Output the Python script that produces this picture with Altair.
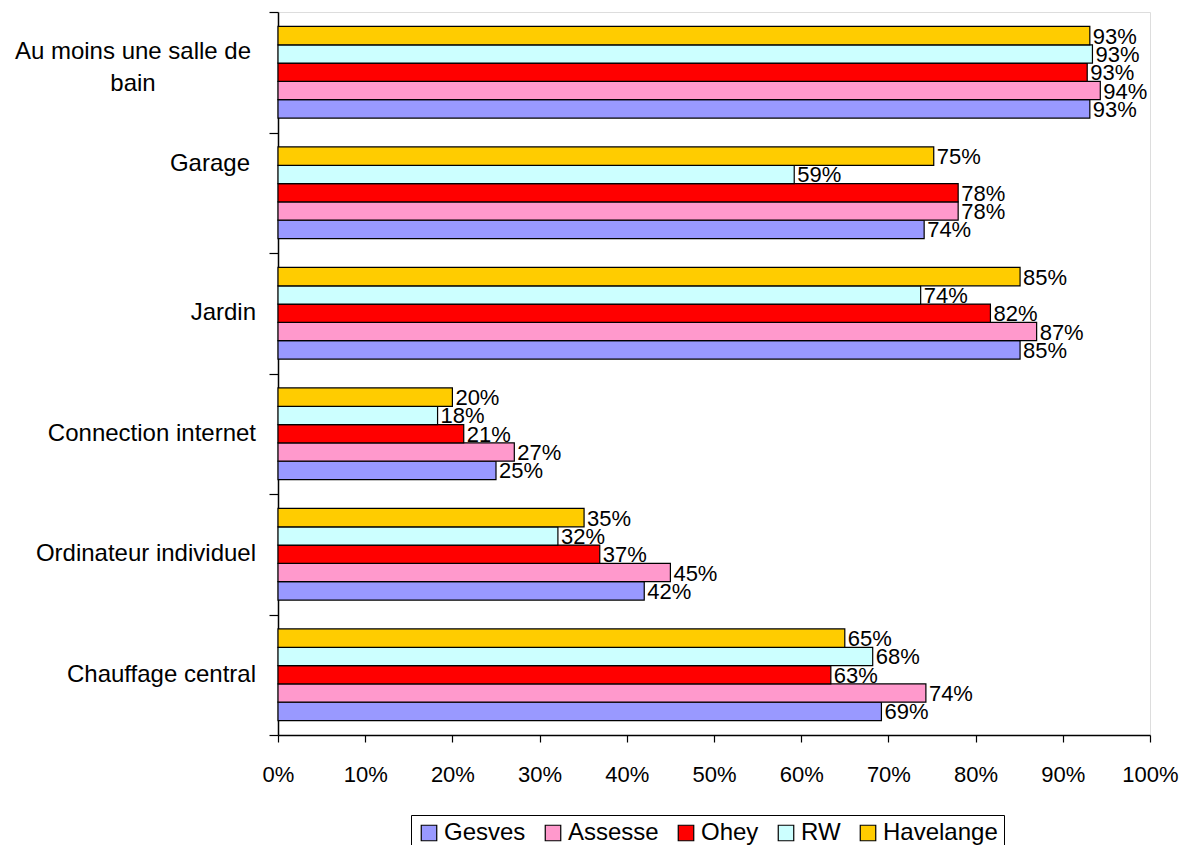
import altair as alt
import pandas as pd

categories = ["Au moins une salle de bain", "Garage", "Jardin",
              "Connection internet", "Ordinateur individuel", "Chauffage central"]
series = ["Gesves", "Assesse", "Ohey", "RW", "Havelange"]
colors = ["#9999FF", "#FF99CC", "#FF0000", "#CCFFFF", "#FFCC00"]

gesves = [93.1, 74.1, 85.1, 25.0, 42.0, 69.2]
assesse = [94.3, 78.0, 87.0, 27.1, 45.0, 74.3]
ohey = [92.8, 78.0, 81.7, 21.3, 36.9, 63.4]
rw = [93.4, 59.2, 73.7, 18.3, 32.1, 68.2]
havelange = [93.1, 75.2, 85.1, 20.0, 35.1, 65.0]

tick_values = [0, 10, 20, 30, 40, 50, 60, 70, 80, 90, 100]

values = {"Gesves": gesves, "Assesse": assesse, "Ohey": ohey, "RW": rw, "Havelange": havelange}
rows = []
for s in series:
    for c, v in zip(categories, values[s]):
        rows.append({"cat": c, "series": s, "value": v})
df = pd.DataFrame(rows)

FONT = "Liberation Sans"
FS = 22
FS_CAT = 24
FS_LEG = 24

y_enc = alt.Y("cat:N", sort=categories, title=None,
              scale=alt.Scale(paddingInner=0, paddingOuter=0),
              axis=alt.Axis(labels=False, tickBand="extent", tickSize=9,
                            tickColor="black", domainColor="black",
                            domainWidth=1.5, tickWidth=1.2))
yoff = alt.YOffset("series:N", sort=["Havelange", "RW", "Ohey", "Assesse", "Gesves"],
                   scale=alt.Scale(paddingInner=0, paddingOuter=0.79))
x_enc = alt.X("value:Q", title=None,
              scale=alt.Scale(domain=[0, 100], nice=False),
              axis=alt.Axis(values=tick_values, labelExpr="datum.value + '%'",
                            grid=False, tickSize=7, tickColor="black",
                            domainColor="black", domainWidth=1.5, tickWidth=1.2,
                            labelFontSize=FS, labelPadding=22, labelColor="black",
                            labelFlush=False, labelOverlap=False))

bars = alt.Chart(df).mark_bar(stroke="black", strokeWidth=1.2).encode(
    x=x_enc,
    y=y_enc,
    yOffset=yoff,
    color=alt.Color("series:N", sort=series,
                    scale=alt.Scale(domain=series, range=colors),
                    legend=alt.Legend(title=None, orient="none", direction="horizontal",
                                      legendX=133, legendY=803,
                                      symbolType="square", symbolSize=240,
                                      symbolStrokeColor="black", symbolStrokeWidth=1.2,
                                      labelFontSize=FS_LEG, labelFont=FONT,
                                      strokeColor="black", padding=6,
                                      columnPadding=15, labelOffset=3,
                                      labelColor="black")),
)

value_text = alt.Chart(df).transform_calculate(
    label="format(datum.value, '.0f') + '%'"
).mark_text(align="left", baseline="middle", dx=3, dy=1, fontSize=FS, font=FONT,
            color="black").encode(
    x=alt.X("value:Q"),
    y=alt.Y("cat:N", sort=categories),
    yOffset=yoff,
    text="label:N",
)

cat_df = pd.DataFrame({"cat": categories})

lab_plain = alt.Chart(cat_df).transform_filter(
    alt.FieldOneOfPredicate(field="cat", oneOf=categories[2:])
).mark_text(align="right", baseline="middle", fontSize=FS_CAT, font=FONT,
            color="black").encode(
    x=alt.value(-22),
    y=alt.Y("cat:N", sort=categories),
    text="cat:N",
)

lab_garage = alt.Chart(cat_df).transform_filter(
    alt.FieldEqualPredicate(field="cat", equal=categories[1])
).mark_text(align="right", baseline="middle", fontSize=FS_CAT, font=FONT,
            color="black", dy=-29).encode(
    x=alt.value(-28),
    y=alt.Y("cat:N", sort=categories),
    text="cat:N",
)

lab_bath = alt.Chart(cat_df).transform_filter(
    alt.FieldEqualPredicate(field="cat", equal=categories[0])
).transform_calculate(
    wrapped="'Au moins une salle de\\nbain'"
).mark_text(align="center", baseline="middle", fontSize=FS_CAT, font=FONT,
            color="black", lineBreak="\n", lineHeight=32, dy=-20).encode(
    x=alt.value(-145),
    y=alt.Y("cat:N", sort=categories),
    text="wrapped:N",
)

chart = alt.layer(bars, value_text, lab_plain, lab_garage, lab_bath).properties(
    width=872, height=723,
    autosize=alt.AutoSizeParams(type="none"),
    padding={"left": 270, "top": 4, "right": 30, "bottom": 110},
).configure_view(
    stroke="#808080", strokeWidth=1.5
).configure(
    font=FONT, background="white"
)

chart.save("out.html", embed_options={"renderer": "svg", "actions": False})
